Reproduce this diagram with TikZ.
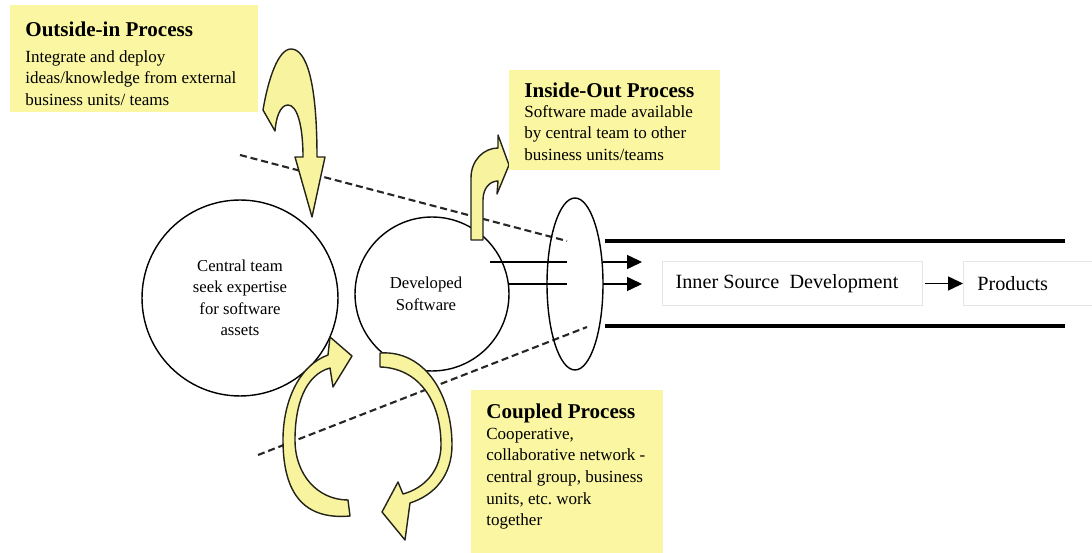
\documentclass[tikz,border=0pt]{standalone}
\usepackage{fontspec}
\setmainfont{Liberation Serif}
\usetikzlibrary{arrows.meta,shapes.geometric}
\definecolor{boxyellow}{RGB}{250,246,162}
\definecolor{arrowyellow}{RGB}{247,243,158}
\definecolor{edgedark}{RGB}{35,35,25}
\newcommand\myttlfont{\fontsize{12}{12}\selectfont\bfseries}
\begin{document}
\begin{tikzpicture}[x=0.02cm,y=-0.02cm,
  ybox/.style={fill=boxyellow, draw=none, inner sep=0, anchor=north west},
  txt/.style={align=left, inner sep=0, anchor=north west, font=\fontsize{9.7}{12.3}\selectfont},
  circ/.style={circle, draw, line width=0.8pt, align=center, inner sep=0, font=\fontsize{9.5}{12.2}\selectfont},
  blockarrow/.style={fill=arrowyellow, draw=edgedark, line width=0.8pt, line join=round},
  dashline/.style={line width=1.2pt, draw=black!85, dash pattern=on 4pt off 2.2pt},
  thickline/.style={line width=2.3pt},
  conn/.style={line width=0.6pt},
  connarrow/.style={line width=0.6pt, -{Triangle[length=8.5pt,width=8pt]}},
  pbox/.style={draw=black!10, line width=0.4pt, inner sep=0, minimum height=0.88cm, font=\fontsize{11.5}{13}\selectfont}
]
\useasboundingbox (0,0) rectangle (1092,553);

% dashed boundary lines
\coordinate (d1a) at (240,155);
\coordinate (d1b) at (567,241);
\coordinate (d2a) at (258,455);
\coordinate (d2b) at (587,327);
\draw[dashline] (d1a) -- (d1b);
\draw[dashline] (d2a) -- (d2b);

% circles and ellipse
\node[circ, minimum size=3.92cm] (ct) at (240,298) {Central team\\seek expertise\\for software\\assets};
\node[circ, minimum size=3.08cm] (dev) at (432,294) {\hspace*{-0.24cm}Developed\\\hspace*{-0.24cm}Software};
\node[ellipse, draw, line width=0.8pt, minimum width=1.12cm, minimum height=3.44cm, inner sep=0] (ell) at (575,284) {};

% channel lines
\coordinate (ta) at (605,241);
\coordinate (tb) at (1065,241);
\coordinate (ba) at (605,326);
\coordinate (bb) at (1065,326);
\draw[thickline] (ta) -- (tb);
\draw[thickline] (ba) -- (bb);

% flow lines
\coordinate (u0) at (490,262);
\coordinate (u1) at (567,262);
\coordinate (u2) at (603,262);
\coordinate (u3) at (642,262);
\coordinate (l0) at (509,284);
\coordinate (l1) at (567,284);
\coordinate (l2) at (603,284);
\coordinate (l3) at (642,284);
\draw[conn] (u0) -- (u1);
\draw[conn] (l0) -- (l1);
\draw[connarrow] (u2) -- (u3);
\draw[connarrow] (l2) -- (l3);

% inner source and products
\node[pbox, minimum width=5.2cm] (isd) at (792,283.5) {\hspace*{-0.2cm}Inner Source~ Development};
\node[pbox, anchor=west, text width=2.4cm, align=left, inner xsep=0.28cm] (prod) at (963,283.5) {Products};
\draw[connarrow] (isd.east) ++(3,0) -- (prod.west);

% block arrows
% outside-in
\draw[blockarrow] (263,110) .. controls (268,80) and (278,49) .. (291,49)
  .. controls (306,49) and (317,80) .. (317,157) -- (325,157) -- (312,217) -- (295,157) -- (303,157)
  .. controls (303,125) and (297,105) .. (288,105)
  .. controls (280,105) and (276,118) .. (275,131) -- cycle;
% inside-out
\draw[blockarrow] (471,240) -- (471,178) .. controls (471,160) and (484,148) .. (498,148)
  -- (498,135) -- (509,165) -- (497,194) -- (498,181)
  .. controls (490,181) and (483,188) .. (483,200) -- (483,240) -- cycle;
% coupled left
\draw[blockarrow] (350,516) .. controls (305,520) and (283,495) .. (283,440)
  .. controls (283,400) and (300,365) .. (328,355) -- (330,337) -- (352,356) -- (333,387) -- (330,368)
  .. controls (305,375) and (295,405) .. (295,440)
  .. controls (295,475) and (318,500) .. (348,500) -- cycle;
% coupled right
\draw[blockarrow] (380,353) .. controls (425,350) and (452,395) .. (452,445)
  .. controls (452,475) and (435,495) .. (410,503) -- (405,540) -- (382,512) -- (398,482) -- (403,494)
  .. controls (425,488) and (441,470) .. (441,445)
  .. controls (441,400) and (418,368) .. (380,367) -- cycle;

% yellow boxes
\node[ybox, minimum width=4.96cm, minimum height=2.14cm] (b1) at (10,5) {};
\node[ybox, minimum width=4.22cm, minimum height=2.0cm] (b2) at (509,70) {};
\node[ybox, minimum width=3.84cm, minimum height=3.26cm] (b3) at (471,390) {};

\node[txt] (t1) at (25,21.5) {{\myttlfont Outside-in Process}\\[2.3pt]Integrate and deploy\\ideas/knowledge from external\\business units/ teams};
\node[txt] (t2) at (524,82.5) {{\myttlfont Inside-Out Process}\\[-1pt]Software made available\\by central team to other\\business units/teams};
\node[txt] (t3) at (486,403.5) {{\myttlfont Coupled Process}\\[-0.4pt]Cooperative,\\collaborative network -\\central group, business\\units, etc.\ work\\together};
\end{tikzpicture}
\end{document}
